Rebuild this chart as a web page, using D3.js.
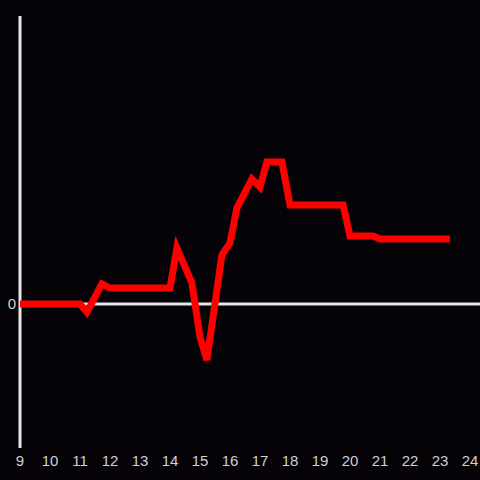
<!DOCTYPE html>
<html>
<head>
<meta charset="utf-8">
<script src="https://cdn.jsdelivr.net/npm/d3@7"></script>
<style>
  body { margin: 0; background: #050307; }
  svg { display: block; }
</style>
</head>
<body>
<div id="chart"></div>
<script>
// data (hour of day, value)
var hours = [9, 11, 11.23, 11.73, 12, 14, 14.23, 14.73, 15, 15.23, 15.73, 16, 16.23,
             16.73, 17, 17.23, 17.73, 18, 19.77, 20, 20.77, 21, 23.33];
var values = [0, 0, -0.056, 0.139, 0.111, 0.111, 0.389, 0.146, -0.229, -0.389, 0.34, 0.424, 0.667,
              0.868, 0.8125, 0.986, 0.986, 0.6875, 0.6875, 0.472, 0.472, 0.451, 0.451];
var xTicks = [9, 10, 11, 12, 13, 14, 15, 16, 17, 18, 19, 20, 21, 22, 23, 24];
var yTicks = [0];

var width = 480, height = 480;

var svg = d3.select("#chart")
  .append("svg")
    .attr("width", width)
    .attr("height", height);

svg.append("rect")
  .attr("width", width)
  .attr("height", height)
  .attr("fill", "#050307");

var x = d3.scaleLinear().domain([9, 24]).range([20, 470]);
var y = d3.scaleLinear().domain([-1, 2]).range([448, 16]);

// zero line across the full width
svg.append("line")
  .attr("x1", x(9))
  .attr("x2", width)
  .attr("y1", y(0))
  .attr("y2", y(0))
  .attr("stroke", "#e6e6e6")
  .attr("stroke-width", 3);

// y axis line
svg.append("line")
  .attr("x1", x(9))
  .attr("x2", x(9))
  .attr("y1", y(2))
  .attr("y2", y(-1))
  .attr("stroke", "#e6e6e6")
  .attr("stroke-width", 3);

// y tick labels
svg.selectAll(".ylab")
  .data(yTicks)
  .enter()
  .append("text")
    .attr("class", "ylab")
    .attr("x", x(9) - 4)
    .attr("y", function(d) { return y(d); })
    .attr("dy", "0.35em")
    .attr("text-anchor", "end")
    .style("font-family", "Liberation Sans, Arial, sans-serif")
    .style("font-size", "15px")
    .style("fill", "#d0d0d0")
    .text(function(d) { return d; });

// x tick labels
svg.selectAll(".xlab")
  .data(xTicks)
  .enter()
  .append("text")
    .attr("class", "xlab")
    .attr("x", function(d) { return x(d); })
    .attr("y", 461)
    .attr("dy", "0.35em")
    .attr("text-anchor", "middle")
    .style("font-family", "Liberation Sans, Arial, sans-serif")
    .style("font-size", "15px")
    .style("fill", "#d0d0d0")
    .text(function(d) { return d; });

// the red series
var points = hours.map(function(h, i) { return [h, values[i]]; });
var line = d3.line()
  .x(function(d) { return x(d[0]); })
  .y(function(d) { return y(d[1]); });

svg.append("path")
  .datum(points)
  .attr("d", line)
  .attr("fill", "none")
  .attr("stroke", "#ff0000")
  .attr("stroke-width", 7);
</script>
</body>
</html>
